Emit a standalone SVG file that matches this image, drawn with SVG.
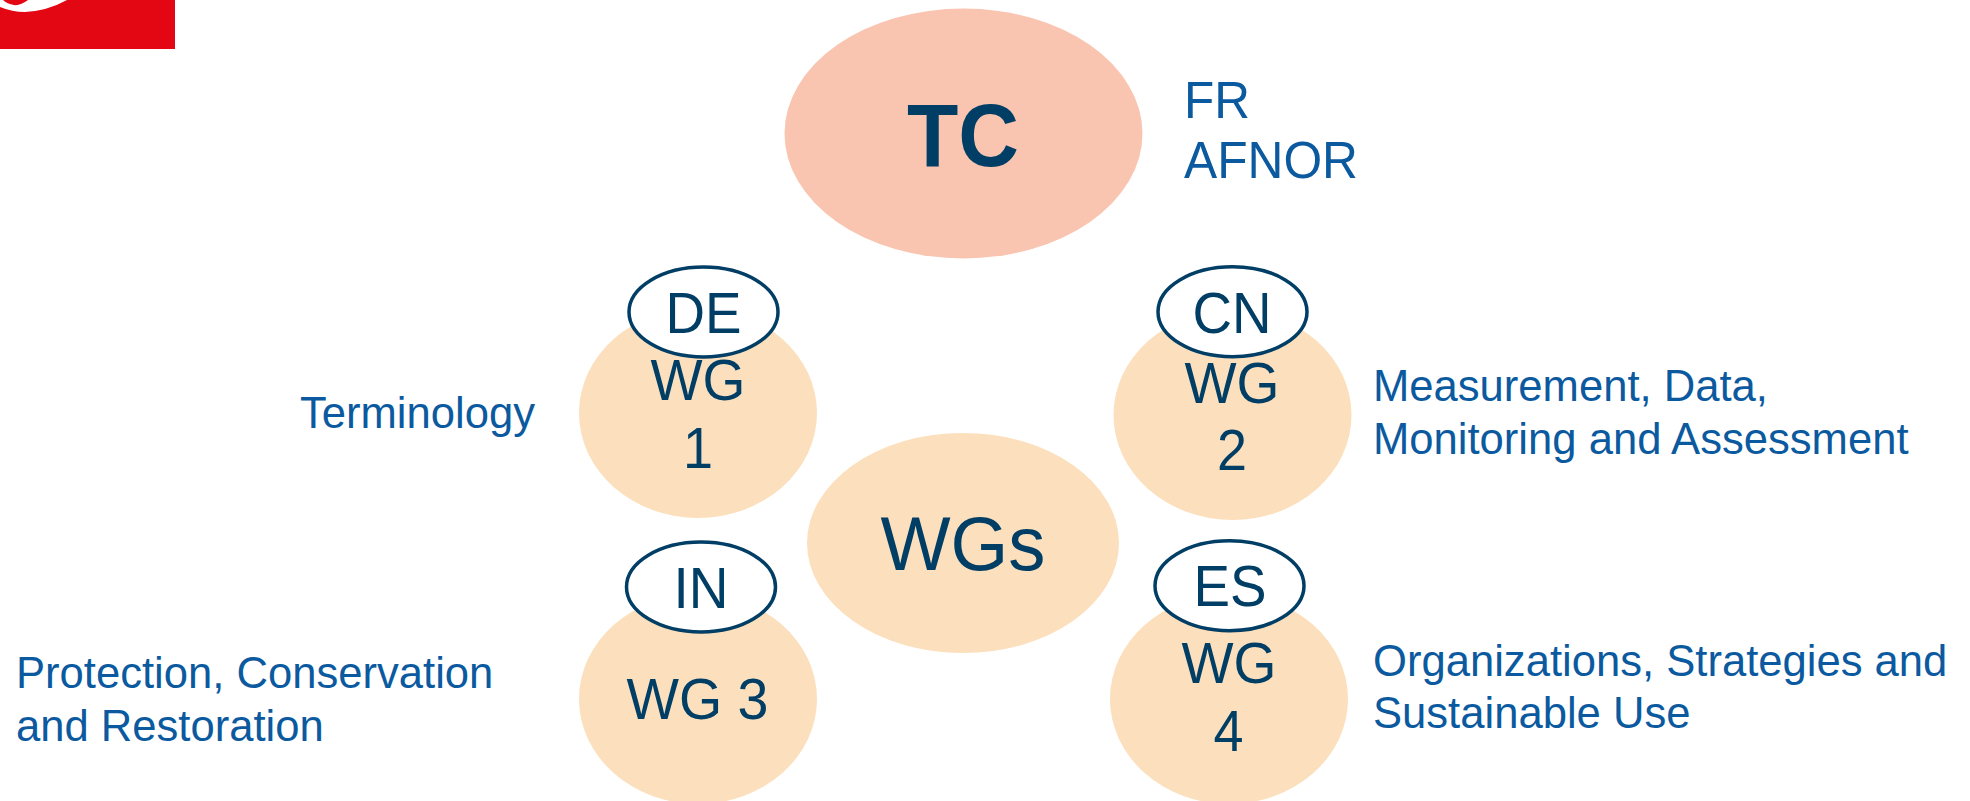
<svg xmlns="http://www.w3.org/2000/svg" width="1970" height="801" viewBox="0 0 1970 801">
<style>
text{font-family:"Liberation Sans",Arial,sans-serif}
.d{fill:#003e66;text-anchor:middle;font-size:57px}
.b{fill:#0b5aa0;font-size:43.6px}
.w{fill:#fce0bd}
.o{fill:#fff;stroke:#003e66;stroke-width:3.5}
</style>
<rect width="1970" height="801" fill="#fff"/>
<g id="logo"><rect x="0" y="0" width="175" height="49" fill="#e30613"/><path d="M0 7Q12 12 25 12Q47 11 67 0L28 0Q20 6 14 5Q7 4 3 0L0 0Z" fill="#fff"/></g>
<g id="connectors"></g>
<g id="tc"><ellipse cx="963.5" cy="133.5" rx="179" ry="125" fill="#f9c5b0"/><text x="963" y="166" class="d" style="font-size:89px;font-weight:bold" textLength="112" lengthAdjust="spacingAndGlyphs">TC</text></g>
<g id="tc-label"><text x="1184" y="118" class="b" style="font-size:51px" textLength="66" lengthAdjust="spacingAndGlyphs">FR</text><text x="1184" y="178" class="b" style="font-size:51px" textLength="174" lengthAdjust="spacingAndGlyphs">AFNOR</text></g>
<g id="wgs"><ellipse cx="963" cy="543" rx="156" ry="110" class="w"/><text x="963" y="570" class="d" style="font-size:76px" textLength="165" lengthAdjust="spacingAndGlyphs">WGs</text></g>
<g id="wg1"><ellipse cx="698" cy="413" rx="119" ry="105" class="w"/><text x="698" y="400" class="d" textLength="95" lengthAdjust="spacingAndGlyphs">WG</text><text x="698" y="468" class="d" textLength="30" lengthAdjust="spacingAndGlyphs">1</text><ellipse cx="703.5" cy="312" rx="74.5" ry="45" class="o"/><text x="703.5" y="333" class="d" textLength="76" lengthAdjust="spacingAndGlyphs">DE</text></g>
<g id="wg2"><ellipse cx="1232.5" cy="415" rx="119" ry="105" class="w"/><text x="1232" y="403" class="d" textLength="95" lengthAdjust="spacingAndGlyphs">WG</text><text x="1232" y="470" class="d" textLength="30" lengthAdjust="spacingAndGlyphs">2</text><ellipse cx="1232.5" cy="311.7" rx="74.5" ry="45" class="o"/><text x="1232" y="333" class="d" textLength="79" lengthAdjust="spacingAndGlyphs">CN</text></g>
<g id="wg3"><ellipse cx="698" cy="699" rx="119" ry="105" class="w"/><text x="697.5" y="719" class="d" textLength="142" lengthAdjust="spacingAndGlyphs">WG 3</text><ellipse cx="701" cy="587" rx="74.5" ry="45" class="o"/><text x="701" y="608" class="d" textLength="55" lengthAdjust="spacingAndGlyphs">IN</text></g>
<g id="wg4"><ellipse cx="1229" cy="699" rx="119" ry="105" class="w"/><text x="1229" y="683" class="d" textLength="95" lengthAdjust="spacingAndGlyphs">WG</text><text x="1228.5" y="751" class="d" textLength="30" lengthAdjust="spacingAndGlyphs">4</text><ellipse cx="1229.5" cy="585.7" rx="74.5" ry="45" class="o"/><text x="1230" y="606" class="d" textLength="73" lengthAdjust="spacingAndGlyphs">ES</text></g>
<g id="labels">
<text x="300" y="427.5" class="b">Terminology</text>
<text x="1373" y="400.5" class="b">Measurement, Data,</text>
<text x="1373" y="453.5" class="b">Monitoring and Assessment</text>
<text x="16" y="687.5" class="b">Protection, Conservation</text>
<text x="16" y="740.5" class="b">and Restoration</text>
<text x="1373" y="675.5" class="b">Organizations, Strategies and</text>
<text x="1373" y="727.5" class="b">Sustainable Use</text>
</g>
</svg>
